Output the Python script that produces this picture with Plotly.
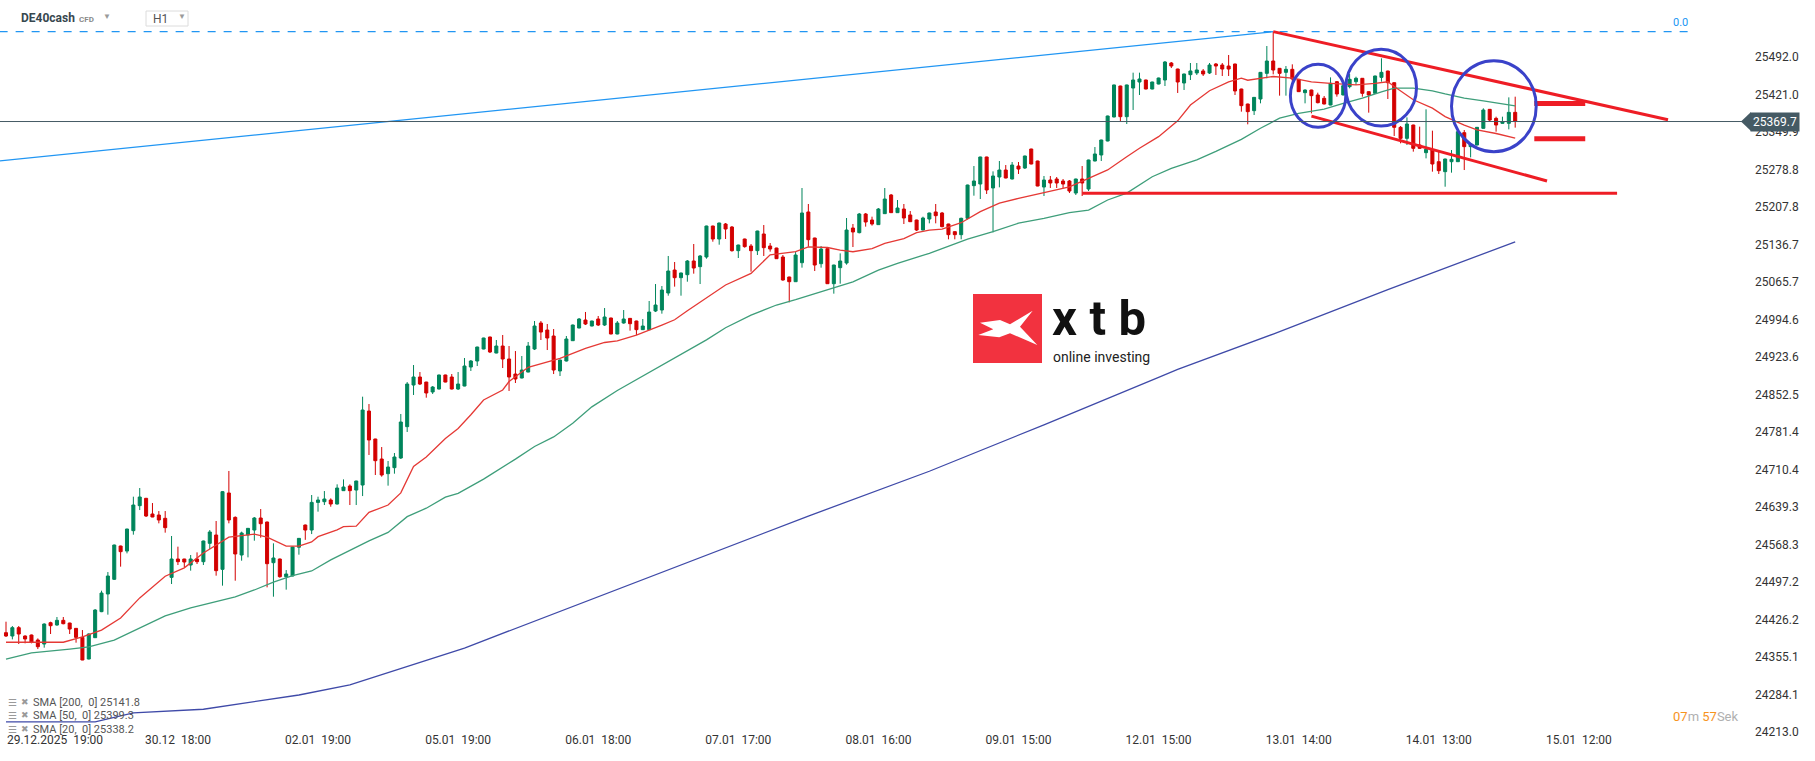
import plotly.graph_objects as go

# ---------------- data (H1 candles, DE40cash) ----------------
open_ = [24401.1,24394.8,24410.6,24394.8,24396.7,24387.2,24379.6,24420.0,24415.6,24424.5,
 24419.4,24409.3,24392.2,24351.2,24391.6,24440.9,24474.4,24502.2,24565.3,24555.8,
 24594.4,24641.8,24655.7,24626.0,24624.1,24617.8,24505.9,24540.7,24540.7,24529.3,
 24540.7,24535.6,24570.4,24586.2,24521.1,24665.8,24619.6,24548.3,24586.2,24595.6,
 24618.4,24610.8,24533.7,24540.7,24507.2,24508.5,24563.0,24605.1,24595.6,24648.0,
 24649.3,24652.5,24644.9,24670.2,24679.0,24671.4,24680.9,24821.1,24768.1,24730.2,
 24702.4,24713.8,24732.1,24791.5,24870.4,24885.6,24876.0,24857.2,24862.8,24889.4,
 24885.6,24862.8,24868.5,24904.5,24915.9,24938.6,24961.4,24931.0,24944.3,24919.7,
 24891.2,24883.7,24895.0,24938.6,24987.9,24974.6,24963.3,24897.0,24915.9,24954.4,
 24978.4,24993.6,24982.2,24995.5,24984.1,24997.4,24967.1,24987.9,24996.7,24991.7,
 24975.3,24975.3,25010.6,25012.5,25044.8,25088.3,25073.8,25079.5,25105.4,25094.7,
 25113.0,25171.7,25147.1,25175.5,25169.8,25125.0,25147.1,25133.8,25125.0,25156.6,
 25133.8,25130.0,25113.0,25075.1,25066.2,25102.2,25198.3,25149.0,25100.3,25128.8,
 25062.4,25092.8,25101.6,25167.9,25159.1,25194.5,25183.1,25174.3,25195.1,25230.5,
 25197.0,25203.9,25192.6,25183.1,25164.1,25185.0,25198.3,25196.4,25175.5,25161.0,
 25155.3,25186.3,25248.2,25251.3,25302.5,25243.8,25264.6,25277.8,25260.8,25285.4,
 25281.6,25317.6,25294.9,25245.6,25258.9,25260.8,25257.0,25257.0,25234.2,25260.8,
 25241.8,25294.9,25306.3,25332.8,25378.3,25437.0,25378.9,25433.2,25444.6,25448.4,
 25431.3,25440.8,25448.4,25480.6,25469.2,25442.7,25458.5,25461.7,25465.5,25461.7,
 25478.7,25476.8,25474.9,25478.7,25431.3,25402.9,25390.3,25412.4,25461.0,25484.4,
 25470.5,25462.9,25468.6,25449.7,25424.4,25429.4,25420.0,25413.7,25401.0,25445.2,
 25420.0,25435.8,25445.2,25451.6,25426.3,25423.1,25453.4,25465.4,25443.3,25358.7,
 25337.8,25363.1,25325.2,25310.7,25315.7,25293.6,25274.7,25293.6,25293.6,25348.6,
 25322.1,25325.2,25356.8,25392.8,25375.7,25366.3,25366.3,25387.1]
high = [24421.9,24413.7,24413.7,24396.0,24397.5,24390.3,24418.8,24421.9,24430.8,24430.8,
 24419.9,24409.8,24406.1,24399.8,24445.9,24480.7,24516.0,24568.0,24566.0,24598.0,
 24658.8,24675.2,24656.5,24646.8,24631.6,24631.6,24584.3,24564.1,24541.0,24548.3,
 24553.3,24575.5,24595.6,24612.7,24669.6,24707.5,24621.5,24592.5,24599.5,24620.3,
 24635.4,24611.5,24570.4,24541.5,24519.8,24564.0,24580.5,24606.0,24662.0,24658.8,
 24669.5,24655.6,24682.2,24691.6,24682.2,24689.0,24848.3,24834.4,24768.5,24752.9,
 24726.4,24741.6,24815.5,24876.0,24908.3,24895.0,24876.5,24868.5,24890.0,24890.0,
 24891.2,24895.0,24921.6,24917.8,24943.0,24960.0,24962.0,24955.7,24965.2,24944.3,
 24934.8,24925.4,24951.9,24991.7,24991.7,24986.0,24976.5,24918.5,24963.3,24985.0,
 24997.4,25008.8,24992.3,25001.2,25016.3,24998.0,24991.7,25012.5,24997.3,24992.3,
 24995.5,25029.6,25061.8,25058.0,25114.9,25103.5,25083.3,25107.3,25137.6,25116.8,
 25172.3,25172.3,25178.0,25177.4,25171.7,25136.3,25147.7,25137.6,25162.8,25173.6,
 25139.5,25130.5,25116.8,25075.6,25123.1,25243.7,25213.4,25149.5,25133.8,25129.3,
 25098.3,25119.9,25186.9,25175.5,25196.4,25196.4,25189.4,25205.8,25243.7,25232.4,
 25221.0,25213.4,25200.1,25183.7,25189.4,25197.0,25213.4,25198.3,25176.0,25161.5,
 25187.5,25250.0,25285.4,25303.0,25303.0,25275.3,25294.9,25287.3,25293.0,25293.0,
 25305.0,25318.2,25295.5,25266.5,25266.5,25264.6,25260.8,25258.9,25261.4,25285.4,
 25297.4,25321.4,25335.3,25380.8,25439.6,25437.6,25439.6,25462.3,25462.3,25449.0,
 25445.2,25452.8,25484.4,25482.5,25469.8,25460.4,25480.6,25480.6,25469.2,25480.6,
 25480.6,25480.6,25495.8,25479.3,25431.9,25403.5,25416.1,25463.5,25512.8,25540.0,
 25471.1,25474.9,25478.1,25450.3,25430.7,25430.0,25424.4,25418.1,25453.4,25446.5,
 25442.1,25459.8,25454.7,25452.2,25426.9,25456.6,25489.5,25466.0,25443.9,25361.2,
 25377.6,25363.7,25360.0,25392.8,25352.4,25312.6,25299.3,25315.7,25351.1,25353.6,
 25327.7,25359.3,25394.7,25393.4,25378.9,25378.9,25415.5,25416.8]
low = [24393.0,24388.4,24379.6,24380.9,24380.9,24370.1,24372.7,24398.6,24414.3,24417.0,
 24398.6,24382.1,24349.0,24350.5,24391.0,24440.0,24435.2,24500.9,24526.2,24551.4,
 24586.8,24633.5,24620.3,24620.0,24608.3,24590.6,24493.3,24529.3,24524.9,24518.6,
 24531.2,24529.3,24559.6,24509.1,24490.2,24608.3,24499.6,24537.5,24543.8,24575.4,
 24581.1,24487.0,24469.3,24505.3,24482.6,24508.0,24548.9,24577.0,24588.0,24630.4,
 24643.0,24639.8,24644.0,24670.0,24643.0,24643.0,24660.0,24737.8,24699.9,24696.7,
 24679.7,24702.4,24730.2,24781.4,24851.5,24870.4,24846.4,24853.4,24862.0,24875.5,
 24862.0,24861.0,24868.0,24897.0,24906.4,24938.0,24931.0,24930.5,24902.6,24859.1,
 24874.2,24883.0,24894.5,24936.7,24955.7,24936.7,24891.2,24887.5,24915.0,24954.0,
 24978.0,24984.1,24981.6,24982.2,24982.2,24966.5,24966.5,24986.6,24973.4,24965.2,
 24974.7,24974.7,25008.7,25005.6,25039.7,25056.8,25039.7,25066.2,25081.4,25061.8,
 25109.8,25142.0,25136.3,25147.1,25123.1,25111.1,25130.7,25085.2,25116.8,25114.9,
 25123.1,25109.3,25068.1,25027.1,25065.7,25092.8,25132.6,25086.4,25092.8,25061.9,
 25043.5,25062.4,25098.4,25131.9,25157.8,25170.5,25172.4,25173.7,25194.5,25196.4,
 25196.4,25175.5,25179.3,25162.2,25163.5,25176.8,25176.8,25169.2,25146.5,25146.5,
 25146.5,25184.4,25229.2,25222.9,25232.4,25159.7,25245.0,25262.0,25260.0,25270.3,
 25279.7,25288.6,25247.0,25228.6,25243.8,25243.8,25243.8,25234.2,25230.5,25228.6,
 25238.0,25294.3,25294.9,25332.2,25377.7,25370.7,25365.0,25391.6,25420.0,25430.7,
 25430.7,25440.2,25437.0,25471.1,25423.8,25429.5,25448.4,25457.9,25456.0,25459.8,
 25457.9,25456.0,25456.0,25420.0,25388.4,25364.4,25382.1,25404.2,25451.6,25459.1,
 25418.7,25418.7,25445.2,25425.7,25404.2,25385.2,25404.2,25402.3,25400.4,25416.8,
 25419.4,25432.6,25438.9,25416.8,25386.5,25422.5,25445.2,25412.4,25342.3,25328.4,
 25325.2,25312.6,25318.3,25299.9,25274.7,25270.3,25246.2,25272.8,25293.0,25277.8,
 25301.8,25324.6,25356.2,25369.4,25350.5,25365.7,25354.9,25358.1]
close = [24394.8,24410.6,24398.6,24389.1,24382.8,24374.5,24417.5,24414.3,24424.5,24418.1,
 24408.0,24392.2,24349.3,24398.6,24444.0,24476.2,24508.5,24567.2,24554.6,24597.5,
 24643.0,24658.2,24622.2,24620.3,24614.6,24600.1,24540.7,24535.6,24535.0,24540.7,
 24535.6,24574.8,24591.9,24518.6,24668.3,24614.6,24550.2,24590.0,24598.8,24618.4,
 24607.6,24531.8,24542.6,24507.2,24512.3,24563.4,24579.8,24595.6,24648.0,24652.5,
 24654.4,24644.9,24675.2,24677.1,24670.2,24688.5,24823.0,24766.2,24727.0,24699.9,
 24715.0,24734.0,24800.3,24872.3,24885.6,24872.3,24855.3,24866.6,24889.4,24876.0,
 24862.8,24872.3,24906.4,24915.9,24942.4,24959.5,24933.0,24944.3,24919.7,24885.6,
 24881.8,24898.8,24944.3,24982.2,24970.8,24959.5,24898.8,24917.8,24957.6,24984.1,
 24995.5,24986.0,24991.7,24984.1,24999.3,24967.1,24987.9,24995.5,24986.6,24975.3,
 24982.2,25008.7,25022.0,25050.4,25086.4,25073.8,25082.7,25105.4,25092.1,25114.9,
 25171.7,25147.1,25177.4,25166.0,25125.0,25135.7,25132.6,25125.0,25162.2,25130.7,
 25128.1,25109.8,25069.4,25066.2,25116.8,25196.4,25145.8,25097.8,25128.1,25062.4,
 25097.8,25105.4,25164.1,25160.4,25194.5,25179.3,25175.5,25203.9,25222.9,25197.0,
 25205.8,25186.9,25179.9,25164.1,25186.9,25196.4,25191.3,25170.5,25155.3,25155.3,
 25186.3,25249.4,25257.0,25302.5,25240.0,25266.5,25277.8,25262.7,25287.3,25279.7,
 25304.4,25289.2,25247.5,25258.9,25253.2,25253.2,25251.3,25238.0,25260.8,25253.2,
 25296.8,25308.2,25334.7,25380.2,25439.0,25378.9,25439.0,25448.4,25450.3,25431.3,
 25444.6,25452.2,25482.5,25474.9,25444.6,25459.8,25465.5,25467.4,25459.8,25476.8,
 25474.9,25469.2,25469.2,25427.6,25399.8,25388.4,25415.5,25462.9,25484.4,25467.3,
 25461.0,25468.6,25450.3,25426.3,25429.4,25418.7,25405.4,25402.9,25442.1,25421.9,
 25437.7,25449.7,25451.6,25423.1,25420.0,25456.0,25462.9,25443.3,25358.7,25337.8,
 25365.0,25318.9,25318.9,25317.0,25289.2,25276.6,25298.7,25298.1,25350.5,25322.1,
 25327.1,25358.7,25391.5,25372.6,25363.1,25369.4,25387.1,25369.7]
bar_index = list(range(len(open_)))

# moving averages (bar index, value)
sma20_idx = [0,9,12,15,18,21,25,28,31,35,39,41,44,46,48,49,52,53,55,57,60,62,64,66,69,71,73,75,78,79,
 82,85,87,91,94,96,99,103,105,107,110,113,117,120,124,126,129,131,133,136,138,141,143,145,147,150,
 153,156,159,163,167,170,173,176,178,181,184,186,189,192,194,195,199,202,205,208,212,215,217,218,
 221,224,226,229,231,234,237]
sma20_val = [24383,24383,24393,24406,24429,24467,24508,24524,24552,24582,24588,24582,24565,24565,24573,
 24583,24596,24602,24603,24629,24643,24666,24716,24734,24769,24788,24814,24842,24861,24877,24904,24915,
 24921,24940,24951,24954,24965,24984,24994,25011,25036,25060,25082,25117,25123,25132,25131,25126,25123,
 25129,25139,25148,25159,25164,25166,25178,25199,25215,25224,25235,25246,25262,25278,25303,25319,25341,
 25371,25401,25428,25445,25452,25448,25455,25452,25445,25442,25439,25442,25445,25436,25411,25395,25379,
 25363,25354,25347,25338.2]
sma50_idx = [0,4,10,13,17,21,25,29,32,36,39,42,45,48,51,57,60,63,66,69,71,75,80,83,86,89,92,96,110,113,
 117,121,124,127,129,133,137,140,145,151,155,159,163,167,170,173,176,180,183,187,190,194,197,200,203,
 207,210,213,216,218,221,224,226,229,232,234,237]
sma50_val = [24351,24363,24370,24374,24387,24410,24433,24448,24457,24469,24482,24497,24509,24518,24539,
 24575,24591,24621,24637,24658,24665,24692,24730,24754,24772,24798,24829,24860,24956,24979,25003,25022,
 25032,25043,25051,25066,25088,25101,25120,25147,25161,25177,25186,25197,25202,25221,25234,25265,25281,
 25297,25313,25336,25357,25376,25385,25393,25404,25414,25426,25433,25433,25428,25422,25414,25409,25405,
 25399.3]
sma200_idx = [0,14,20,31,46,54,72,90,108,126,145,163,181,184,199,217,237]
sma200_val = [24232,24232,24249,24256,24283,24302,24372,24455,24538,24622,24707,24795,24885,24900,
 24967,25051,25141.8]

# drawing tools (bar index, price)
trend_x = [-1, 199]
trend_y = [25294.9, 25540.0]
fib0_x = [-1, 264.5]
fib0_y = [25540.0, 25540.0]
chan_up_x = [199, 261]
chan_up_y = [25540.0, 25373.0]
chan_dn_x = [205, 242]
chan_dn_y = [25380.0, 25257.0]
support_x = [169, 253]
support_y = [25234.0, 25234.0]
mark_hi_x = [240, 248]
mark_hi_y = [25404.0, 25404.0]
mark_lo_x = [240, 248]
mark_lo_y = [25337.0, 25337.0]
circles_x0 = [201.7, 210.4, 227.0]
circles_x1 = [210.4, 221.5, 240.3]
circles_y0 = [25358.8, 25361.2, 25312.5]
circles_y1 = [25478.2, 25506.6, 25485.0]
last_price = 25369.7

# axes
x_tick_index = [7.7, 27, 49, 71, 93, 115, 137, 159, 181, 203, 225, 247]
x_tick_labels = ["29.12.2025  19:00", "30.12  18:00", "02.01  19:00", "05.01  19:00",
                 "06.01  18:00", "07.01  17:00", "08.01  16:00", "09.01  15:00",
                 "12.01  15:00", "13.01  14:00", "14.01  13:00", "15.01  12:00"]
y_ticks = [25492.0, 25421.0, 25349.9, 25278.8, 25207.8, 25136.7, 25065.7, 24994.6, 24923.6,
           24852.5, 24781.4, 24710.4, 24639.3, 24568.3, 24497.2, 24426.2, 24355.1, 24284.1, 24213.0]
Y_MIN, Y_MAX = 24207.2, 25600.0
X_MIN, X_MAX = -0.942, 273.56

# ---------------- layout helpers ----------------
W, H = 1815, 761
ML, MR, MT, MB = 0, 67, 0, 26
PW, PH = W - ML - MR, H - MT - MB
def fx(px):
    return (px - ML) / PW
def fy(py):
    return 1 - (py - MT) / PH
def price_py(p):
    return MT + (Y_MAX - p) / (Y_MAX - Y_MIN) * PH

GREEN = "#00855b"
RED = "#d30000"
FONT = "Roboto"

fig = go.Figure()

# drawing tools behind candles
fig.add_trace(go.Scatter(x=fib0_x, y=fib0_y, mode="lines",
                         line=dict(color="#2196f3", width=1.2, dash="8px,8px"), hoverinfo="skip"))
fig.add_trace(go.Scatter(x=trend_x, y=trend_y, mode="lines",
                         line=dict(color="#2196f3", width=1.2), hoverinfo="skip"))

# moving averages
fig.add_trace(go.Scatter(x=sma200_idx, y=sma200_val, mode="lines",
                         line=dict(color="#3f4aa8", width=1.3), hoverinfo="skip"))
fig.add_trace(go.Scatter(x=sma50_idx, y=sma50_val, mode="lines",
                         line=dict(color="#3e9e7a", width=1.3), hoverinfo="skip"))
fig.add_trace(go.Scatter(x=sma20_idx, y=sma20_val, mode="lines",
                         line=dict(color="#e53935", width=1.3), hoverinfo="skip"))

fig.add_trace(go.Candlestick(
    x=bar_index, open=open_, high=high, low=low, close=close,
    increasing=dict(line=dict(color=GREEN, width=1), fillcolor=GREEN),
    decreasing=dict(line=dict(color=RED, width=1), fillcolor=RED),
    whiskerwidth=0, hoverinfo="skip"))

for xs, ys, w in [(chan_up_x, chan_up_y, 3), (chan_dn_x, chan_dn_y, 3),
                  (support_x, support_y, 3), (mark_hi_x, mark_hi_y, 5), (mark_lo_x, mark_lo_y, 5)]:
    fig.add_trace(go.Scatter(x=xs, y=ys, mode="lines",
                             line=dict(color="#ee1d25", width=w), hoverinfo="skip"))

shapes = []
for x0, x1, y0, y1 in zip(circles_x0, circles_x1, circles_y0, circles_y1):
    shapes.append(dict(type="circle", xref="x", yref="y", x0=x0, x1=x1, y0=y0, y1=y1,
                       line=dict(color="#3a42c9", width=3)))
# current price line
shapes.append(dict(type="line", xref="paper", yref="y", x0=0, x1=1, y0=last_price, y1=last_price,
                   line=dict(color="#455a64", width=1)))
# price tag arrow
tag_py = price_py(last_price)
shapes.append(dict(type="path", xref="paper", yref="paper",
                   path=f"M {fx(1741)} {fy(tag_py)} L {fx(1751)} {fy(tag_py-9.5)} L {fx(1751)} {fy(tag_py+9.5)} Z",
                   fillcolor="#455a64", line=dict(width=0)))
# H1 box
shapes.append(dict(type="rect", xref="paper", yref="paper", x0=fx(146), x1=fx(188), y0=fy(26), y1=fy(11),
                   line=dict(color="#dcdcdc", width=1), fillcolor="white"))
# logo
shapes.append(dict(type="rect", xref="paper", yref="paper", x0=fx(973), x1=fx(1042), y0=fy(363), y1=fy(294),
                   fillcolor="#f2323f", line=dict(width=0), layer="above"))
xpts = [(980, 322.7), (1000, 320), (1010, 324.3), (1032.7, 310.7), (1020, 326.7), (1037.3, 345),
        (1010, 333.3), (999.3, 337.3), (978.3, 335), (993.3, 329.3)]
path = "M " + " L ".join(f"{fx(a)} {fy(b)}" for a, b in xpts) + " Z"
shapes.append(dict(type="path", xref="paper", yref="paper", path=path, fillcolor="white",
                   line=dict(width=0), layer="above"))

ann = []
def txt(px, py, text, size, color, anchor="left", bold=False, yanchor="middle", **kw):
    d = dict(xref="paper", yref="paper", x=fx(px), y=fy(py), text=(f"<b>{text}</b>" if bold else text),
             showarrow=False, xanchor=anchor, yanchor=yanchor, align="left",
             font=dict(size=size, color=color, family=FONT))
    d.update(kw)
    ann.append(d)

txt(19, 18, "DE40cash", 12, "#37474f", bold=True)
txt(77, 19, "CFD", 8, "#8a8a8a", bold=True)
txt(101, 16, "▼", 8, "#9a9a9a")
txt(151, 19, "H1", 12, "#555555")
txt(176, 17, "▼", 8, "#9a9a9a")

# logo text
txt(1051, 318.2, "x\u2005t\u2005b", 49, "#111111", bold=True, borderpad=0)
txt(1052, 356.5, "online investing", 14, "#222222", borderpad=0)

# price tag
ann.append(dict(xref="paper", yref="y", x=1, y=last_price, xanchor="left", yanchor="middle", xshift=2,
                text=f"{last_price:.1f}", showarrow=False, bgcolor="#455a64", borderpad=2,
                font=dict(size=12, color="white", family=FONT)))
# fib level label
ann.append(dict(xref="x", yref="y", x=262.9, y=fib0_y[0], yanchor="bottom", xanchor="center", yshift=1,
                text="0.0", showarrow=False, font=dict(size=11, color="#2196f3", family=FONT)))

# SMA legend
for py_, per, vals in [(702, 200, sma200_val), (715, 50, sma50_val), (729, 20, sma20_val)]:
    txt(6, py_, "☰", 10, "#9a9a9a")
    txt(19, py_, "✖", 9, "#9a9a9a")
    txt(31, py_, f"SMA [{per},\u00a0\u00a00] {vals[-1]:.1f}", 11, "#555555")

# timer
ann.append(dict(xref="paper", yref="paper", x=fx(1671), y=fy(716), xanchor="left", yanchor="middle",
                showarrow=False, font=dict(size=13, family=FONT),
                text='<span style="color:#f7941d">07</span><span style="color:#b0b0b0">m </span>'
                     '<span style="color:#f7941d">57</span><span style="color:#b0b0b0">Sek</span>'))

fig.update_layout(
    width=W, height=H, margin=dict(l=ML, r=MR, t=MT, b=MB),
    paper_bgcolor="white", plot_bgcolor="white", showlegend=False,
    boxgap=0.32,
    shapes=shapes, annotations=ann,
    font=dict(family=FONT, color="#333333", size=12),
    xaxis=dict(range=[X_MIN, X_MAX], showgrid=False, zeroline=False, showline=False,
               tickmode="array", tickvals=x_tick_index,
               ticktext=[t.replace("  ", "\u00a0\u00a0") for t in x_tick_labels],
               tickfont=dict(size=12, color="#333333", family=FONT), ticks="",
               ticklabelstandoff=-4,
               rangeslider=dict(visible=False), fixedrange=True),
    yaxis=dict(range=[Y_MIN, Y_MAX], side="right", showgrid=False, zeroline=False, showline=False,
               tickmode="array", tickvals=y_ticks, ticktext=[f"{v:.1f}" for v in y_ticks],
               tickfont=dict(size=12, color="#333333", family=FONT), ticks="",
               ticklabelstandoff=6, fixedrange=True),
)

fig.write_html("out.html", config={"displayModeBar": False},
               post_script="document.body.style.margin='0px';document.body.style.padding='0px';"
                           "document.body.style.overflow='hidden';")
